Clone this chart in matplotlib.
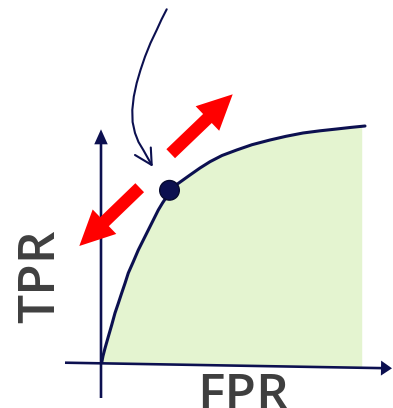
import numpy as np
import matplotlib
matplotlib.use("Agg")
import matplotlib.pyplot as plt
from matplotlib.patches import FancyArrow, Circle

# ---- data (in pixel-like units, y downward) ----
curve_x = [101.7, 103.0, 105.0, 108.3, 111.7, 115.0, 118.3, 121.7, 125.0, 128.3, 133.3,
           138.3, 143.3, 148.3, 153.3, 158.3, 162.5, 166.7, 170.0, 176.0, 183.0, 190.0,
           200.0, 210.0, 222.0, 236.7, 252.0, 270.0, 286.0, 303.0, 320.0, 336.7, 351.0, 365.0]
curve_y = [362.7, 356.0, 348.3, 336.7, 325.0, 313.0, 303.3, 293.0, 283.3, 273.0, 261.7,
           250.0, 240.0, 230.0, 220.0, 210.0, 203.0, 196.7, 190.0, 185.0, 180.0, 175.0,
           168.0, 161.7, 155.5, 150.0, 144.7, 140.0, 136.3, 133.0, 130.8, 129.0, 127.4, 126.0]
fill_right = 361.7

point_xy = (169.5, 190.3)

hint_x = [166.7, 161.5, 156.7, 150.5, 145.0, 140.5, 136.7, 133.8, 132.3, 132.6, 135.0, 138.5, 143.3, 151.7]
hint_y = [9.3, 19.5, 30.0, 43.0, 56.7, 70.0, 83.0, 96.5, 110.0, 122.0, 133.0, 142.0, 150.0, 165.0]
hint_head_x = [135.0, 151.7, 150.8]
hint_head_y = [155.0, 165.0, 147.5]

red_up = (170.7, 153.7, 232.7, 94.3)      # tail x, tail y, tip x, tip y
red_down = (139.7, 187.7, 79.3, 246.0)

x_axis = (65.0, 362.7, 392.0, 368.3)
y_axis = (101.0, 398.0, 101.0, 129.3)

x_label = "FPR"
y_label = "TPR"

navy = "#0c1050"
red = "#ff0000"
green = "#e4f4d0"
grey = "#3f3f3f"

W, H = 393, 408
fig = plt.figure(figsize=(W / 100, H / 100), dpi=100)
ax = fig.add_axes([0, 0, 1, 1])
ax.set_xlim(0, W)
ax.set_ylim(H, 0)
ax.axis("off")

cx = np.array(curve_x)
cy = np.array(curve_y)

# area under curve
fx = np.append(cx[cx < fill_right], fill_right)
fy = np.append(cy[cx < fill_right], np.interp(fill_right, cx, cy))
slope = (x_axis[3] - x_axis[1]) / (x_axis[2] - x_axis[0])
base = x_axis[1] + (fx - x_axis[0]) * slope
ax.fill_between(fx, fy, base, color=green, lw=0, zorder=1)

# axes arrows
ax.add_patch(FancyArrow(x_axis[0], x_axis[1], x_axis[2] - x_axis[0], x_axis[3] - x_axis[1],
                        width=2.6, head_width=15, head_length=11,
                        length_includes_head=True, color=navy, lw=0, zorder=3))
ax.add_patch(FancyArrow(y_axis[0], y_axis[1], y_axis[2] - y_axis[0], y_axis[3] - y_axis[1],
                        width=2.6, head_width=13.5, head_length=15,
                        length_includes_head=True, color=navy, lw=0, zorder=3))

# ROC curve
ax.plot(cx, cy, color=navy, lw=2.2, solid_capstyle="round", solid_joinstyle="round", zorder=4)
ax.add_patch(Circle(point_xy, 9.8, facecolor=navy, edgecolor="#070a30", lw=1, zorder=5))

# red arrows
for tx, ty, hx, hy in (red_up, red_down):
    ax.add_patch(FancyArrow(tx, ty, hx - tx, hy - ty, width=12.5, head_width=34,
                            head_length=35, length_includes_head=True,
                            color=red, lw=0, zorder=6))

# thin pointer arrow
ax.plot(hint_x, hint_y, color=navy, lw=1.5, solid_capstyle="round",
        solid_joinstyle="round", zorder=4)
ax.plot(hint_head_x, hint_head_y, color=navy, lw=1.5, solid_capstyle="round",
        solid_joinstyle="miter", zorder=4)

# labels
ax.text(243.5, 409.5, x_label, fontsize=37, color=grey, family="Open Sans",
        weight="semibold", ha="center", va="baseline", zorder=7)
ax.text(54, 276, y_label, fontsize=37, color=grey, family="Open Sans",
        weight="semibold", rotation=90, rotation_mode="anchor", ha="center",
        va="baseline", zorder=7)

fig.savefig("out.png", dpi=100)
